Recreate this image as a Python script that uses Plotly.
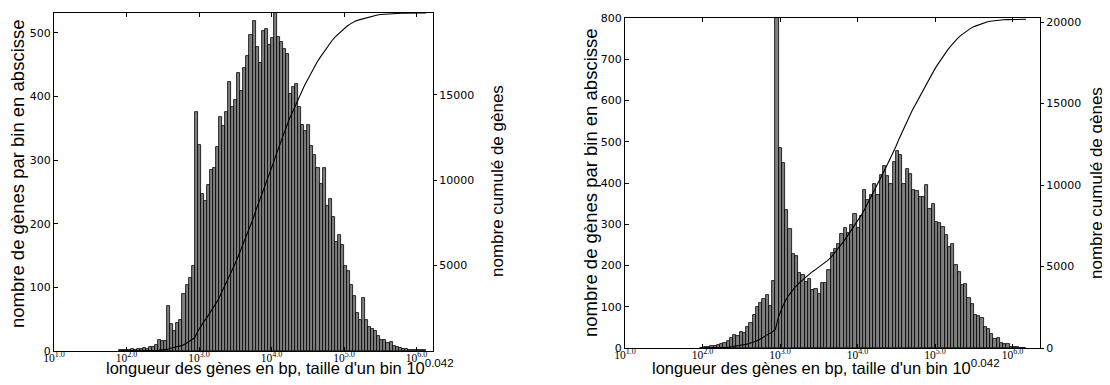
import plotly.graph_objects as go
import numpy as np

# The page body has an 8px default margin: the figure is drawn 8px right/down.
PAGE_W, PAGE_H = 1110, 385
OFF = 8
W, H = PAGE_W - OFF, PAGE_H - 2 * OFF

BIN_WIDTH = 0.042  # log10 bin width

# first bin index (bin k spans [k*BIN_WIDTH, (k+1)*BIN_WIDTH] in log10 units)
k0_left = 45
counts_left = [
    1, 1, 2, 2, 3, 2, 3, 3, 5, 3, 6, 6, 10, 17, 15, 15, 70, 42, 31, 44, 49, 90, 103, 115, 133, 376,
    324, 247, 235, 261, 284, 287, 321, 367, 354, 375, 422, 383, 394, 437, 408, 444, 463, 497, 519,
    477, 452, 502, 506, 480, 492,
    531, 493, 486, 474, 466, 404, 415, 419, 384, 355, 345, 355, 322, 308, 288, 263, 287, 228, 239,
    210, 171, 182, 167, 133, 125, 103, 86, 60, 49, 84, 49, 38, 35, 31, 23, 17, 17, 12, 14, 8, 6, 5,
    3, 3, 2, 1, 1, 1, 1, 1,
]

k0_right = 47
counts_right = [
    1, 2, 2, 4, 6, 8, 10, 11, 16, 24, 32, 29, 40, 36, 51, 61, 79, 99, 109, 120, 129, 103, 162, 800,
    485, 449, 335, 289, 227, 222, 181, 176, 160, 168, 140, 144, 131, 158, 158, 188, 231, 239, 251,
    276, 291, 280, 299, 324,
    291, 320, 382, 358, 372, 398, 370, 420, 441, 416, 397, 451, 477, 469, 398, 433, 423, 382, 380,
    366, 366, 394, 336, 350, 305, 304, 293, 275, 245, 251, 202, 184, 152, 154, 121, 107, 79, 77, 73,
    51, 47, 35, 23, 24, 12, 9, 9, 3, 2, 2, 1, 1,
]

x_tick_exponents = [1, 2, 3, 4, 5, 6]
x_tick_text = ["10<sup>%.1f</sup>" % e for e in x_tick_exponents]

left_y_ticks = [0, 100, 200, 300, 400, 500]
left_y2_ticks = [5000, 10000, 15000]
right_y_ticks = [0, 100, 200, 300, 400, 500, 600, 700, 800]
right_y2_ticks = [0, 5000, 10000, 15000, 20000]

xlabel = "longueur des gènes en bp, taille d'un bin 10<sup>0.042</sup>"
ylabel = "nombre de gènes par bin en abscisse"
y2label = "nombre cumulé de gènes"

BAR_FILL = "#7f7f7f"
SANS = "Liberation Sans, Arial, sans-serif"
XTITLE_FONT = dict(family=SANS, size=16.5, color="black")
YTITLE_FONT = dict(family=SANS, size=18.5, color="black")
Y2TITLE_FONT = dict(family=SANS, size=17, color="black")
TICK_FONT = dict(family="DejaVu Sans, Verdana, sans-serif", size=11, color="black")
XTICK_FONT = dict(family="Liberation Serif, Times New Roman, serif", size=11.5, color="black")


def geometry(counts, k0):
    counts = np.asarray(counts, dtype=float)
    k = np.arange(k0, k0 + len(counts))
    left_edges = k * BIN_WIDTH
    centers = left_edges + BIN_WIDTH / 2
    cum = np.cumsum(counts)
    return centers, left_edges, cum


fig = go.Figure()

cL, eL, cumL = geometry(counts_left, k0_left)
cR, eR, cumR = geometry(counts_right, k0_right)

bar_style = dict(marker=dict(color=BAR_FILL, line=dict(color="black", width=0.8)),
                 width=BIN_WIDTH, showlegend=False, hoverinfo="skip")
line_style = dict(mode="lines", line=dict(color="black", width=1.1),
                  showlegend=False, hoverinfo="skip")

fig.add_trace(go.Bar(x=cL, y=counts_left, xaxis="x", yaxis="y", **bar_style))
fig.add_trace(go.Scatter(x=np.append(eL[0], eL + BIN_WIDTH), y=np.append(0, cumL),
                         xaxis="x", yaxis="y2", **line_style))
fig.add_trace(go.Bar(x=cR, y=counts_right, xaxis="x2", yaxis="y3", **bar_style))
fig.add_trace(go.Scatter(x=np.append(eR[0], eR + BIN_WIDTH), y=np.append(0, cumR),
                         xaxis="x2", yaxis="y4", **line_style))


def fx(px):
    """page pixel x -> paper fraction"""
    return (px - OFF) / W


def fy(py):
    """page pixel y -> paper fraction"""
    return 1 - (py - OFF) / H


# plot-area pixel boxes (page coordinates)
L = dict(x0=54, x1=433, y0=13, y1=351)
R = dict(x0=625, x1=1040, y0=18, y1=348)

xaxis_common = dict(showline=True, linecolor="black", linewidth=1, mirror="ticks",
                    ticks="inside", ticklen=4, tickcolor="black", showgrid=False, zeroline=False,
                    tickvals=x_tick_exponents, ticktext=x_tick_text, tickfont=XTICK_FONT,
                    automargin=False, ticklabelstandoff=-4)
yaxis_common = dict(showline=True, linecolor="black", linewidth=1, ticks="inside", ticklen=4,
                    tickcolor="black", showgrid=False, zeroline=False, tickfont=TICK_FONT,
                    automargin=False)
y2_common = dict(showline=True, linecolor="black", linewidth=1, ticks="outside", ticklen=3,
                 tickcolor="black", showgrid=False, zeroline=False, tickfont=TICK_FONT,
                 automargin=False)

fig.update_layout(
    width=W, height=H,
    margin=dict(l=0, r=0, t=0, b=0, autoexpand=False),
    paper_bgcolor="white", plot_bgcolor="white",
    bargap=0,
    xaxis=dict(domain=[fx(L["x0"]), fx(L["x1"])], anchor="y",
               range=[1.0, 1.0 + (L["x1"] - L["x0"]) / 72.5], **xaxis_common),
    yaxis=dict(domain=[fy(L["y1"]), fy(L["y0"])], anchor="x", range=[0, max(counts_left)],
               tickvals=left_y_ticks, ticktext=[str(v) for v in left_y_ticks], **yaxis_common),
    yaxis2=dict(overlaying="y", side="right", anchor="x", range=[0, cumL[-1]],
                tickvals=left_y2_ticks, ticktext=[str(v) for v in left_y2_ticks], **y2_common),
    xaxis2=dict(domain=[fx(R["x0"]), fx(R["x1"])], anchor="y3",
                range=[1.0, 1.0 + (R["x1"] - R["x0"]) / 77.5], **xaxis_common),
    yaxis3=dict(domain=[fy(R["y1"]), fy(R["y0"])], anchor="x2", range=[0, 800],
                tickvals=right_y_ticks, ticktext=[str(v) for v in right_y_ticks], **yaxis_common),
    yaxis4=dict(overlaying="y3", side="right", anchor="x2", range=[0, cumR[-1] * 1.004],
                tickvals=right_y2_ticks, ticktext=[str(v) for v in right_y2_ticks], **y2_common),
)

annotations = [
    dict(text=xlabel, x=fx(280), y=fy(379), yanchor="bottom", xanchor="center", font=XTITLE_FONT),
    dict(text=xlabel, x=fx(826), y=fy(379), yanchor="bottom", xanchor="center", font=XTITLE_FONT),
    dict(text=ylabel, x=fx(17), y=fy(174), textangle=-90, xanchor="center", yanchor="middle",
         font=YTITLE_FONT),
    dict(text=y2label, x=fx(497), y=fy(181), textangle=-90, xanchor="center", yanchor="middle",
         font=Y2TITLE_FONT),
    dict(text=ylabel, x=fx(590), y=fy(183), textangle=-90, xanchor="center", yanchor="middle",
         font=YTITLE_FONT),
    dict(text=y2label, x=fx(1096), y=fy(183), textangle=-90, xanchor="center", yanchor="middle",
         font=Y2TITLE_FONT),
]
for a in annotations:
    a.update(xref="paper", yref="paper", showarrow=False)
fig.update_layout(annotations=annotations)

fig.write_html("out.html")
